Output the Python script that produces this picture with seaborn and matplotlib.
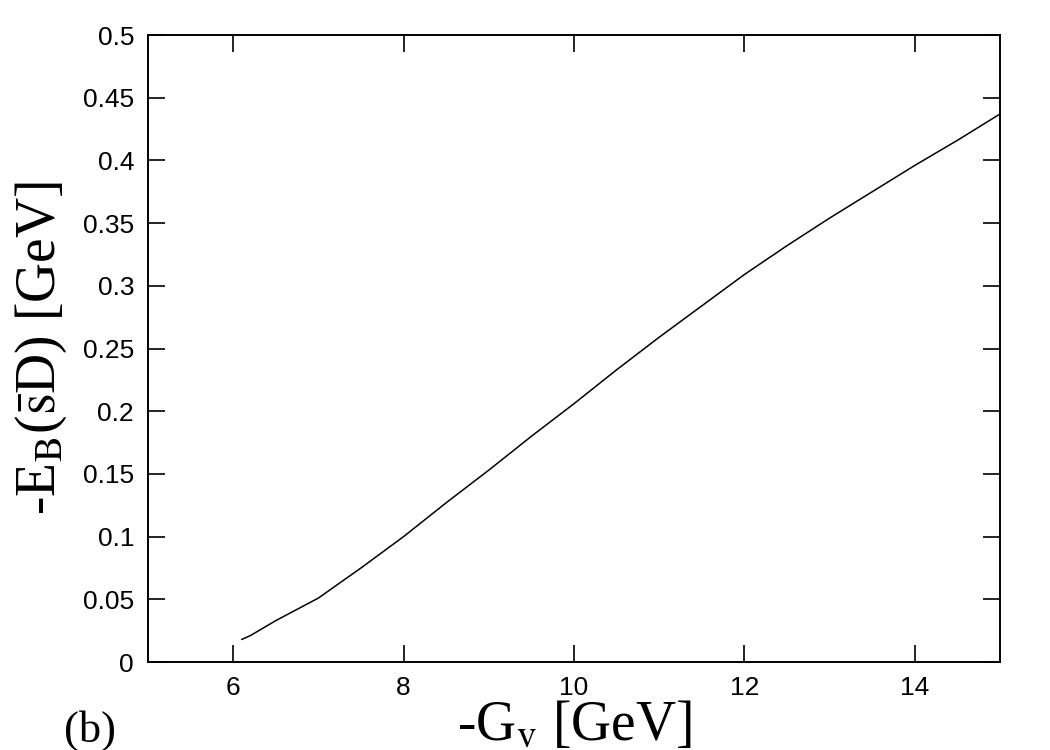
import matplotlib
matplotlib.use("Agg")
import matplotlib.pyplot as plt
import seaborn as sns
import pandas as pd

# values
gv = [6.1, 6.2, 6.5, 7.0, 7.5, 8.0, 8.5, 9.0, 9.5, 10.0, 10.5, 11.0, 11.5, 12.0, 12.5, 13.0, 13.5, 14.0, 14.5, 15.0]
eb = [0.018, 0.021, 0.033, 0.051, 0.075, 0.100, 0.127, 0.153, 0.180, 0.206, 0.233, 0.259, 0.284, 0.309, 0.332, 0.354, 0.375, 0.396, 0.416, 0.437]
df = pd.DataFrame({"gv": gv, "eb": eb})

sns.set_style("ticks")
plt.rcParams["font.family"] = ["Liberation Sans", "DejaVu Sans"]
plt.rcParams["mathtext.fontset"] = "stix"
plt.rcParams["text.color"] = "black"
plt.rcParams["axes.labelcolor"] = "black"

fig = plt.figure(figsize=(10.5, 7.5), dpi=100)
ax = fig.add_axes([148 / 1050, 88 / 750, 852 / 1050, 627 / 750])
sns.lineplot(data=df, x="gv", y="eb", color="black", linewidth=1.1, ax=ax)

ax.set_xlim(5, 15)
ax.set_ylim(0, 0.5)
ax.set_xticks([6, 8, 10, 12, 14])
ax.set_yticks([0, 0.05, 0.1, 0.15, 0.2, 0.25, 0.3, 0.35, 0.4, 0.45, 0.5])
ax.set_yticklabels(["0", "0.05", "0.1", "0.15", "0.2", "0.25", "0.3", "0.35", "0.4", "0.45", "0.5"])
ax.tick_params(direction="in", length=12, width=1.2, labelsize=19, top=True, right=True,
               pad=10, colors="black")
for s in ax.spines.values():
    s.set_linewidth(1.4)
    s.set_color("black")

ax.set_xlabel(r"-G$_{\rm v}$ [GeV]", fontsize=40, family="Liberation Serif", labelpad=0)
ax.set_ylabel(r"-E$_{\rm B}$($\bar{\rm s}$D) [GeV]", fontsize=40, family="Liberation Serif", labelpad=10)
fig.text(64 / 1050, 1 - 742 / 750, "(b)", fontsize=32, family="Liberation Serif")

fig.savefig("out.png", dpi=100)
